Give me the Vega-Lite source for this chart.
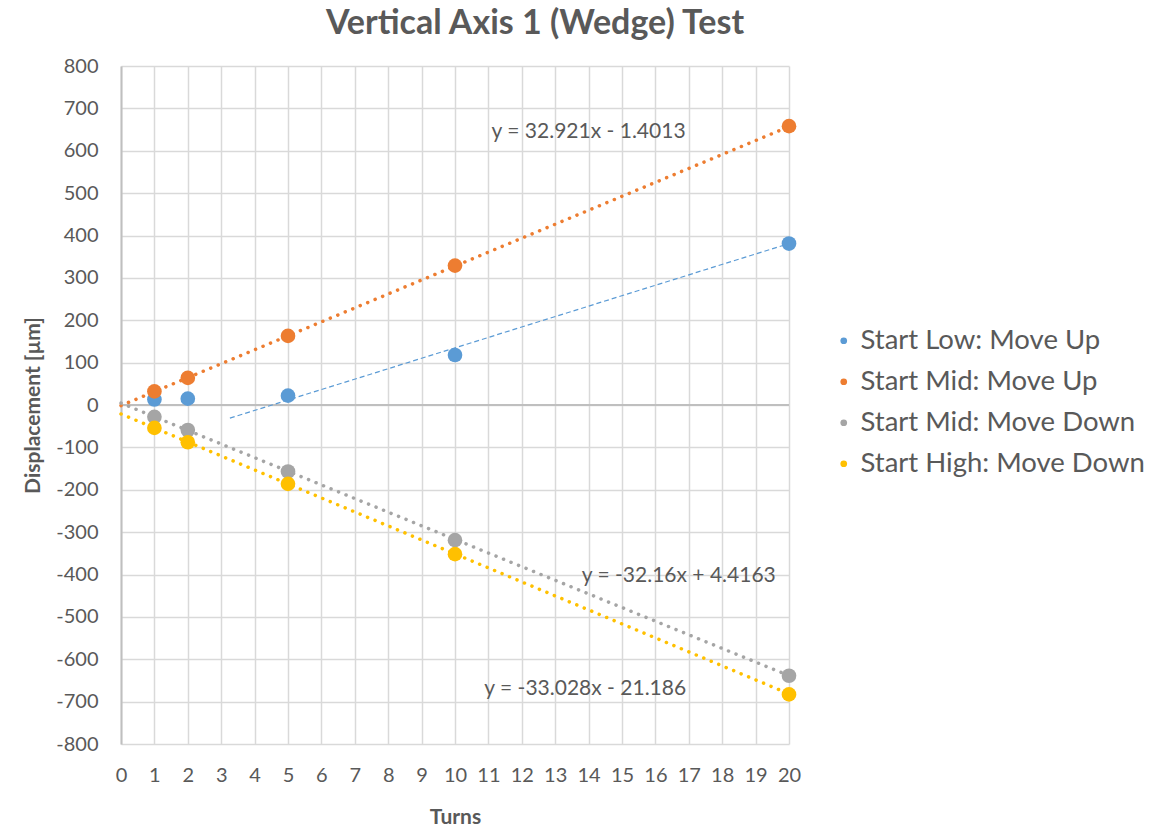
{
  "$schema": "https://vega.github.io/schema/vega-lite/v6.json",
  "autosize": {"type": "none"},
  "padding": {"left": 121, "top": 66, "right": 384, "bottom": 82},
  "width": 668,
  "height": 678,
  "background": "white",
  "title": {
    "text": "Vertical Axis 1 (Wedge) Test",
    "font": "Lato",
    "fontSize": 34,
    "fontWeight": "bold",
    "color": "#595959",
    "anchor": "middle",
    "frame": "group",
    "dx": 80,
    "offset": 15
  },
  "datasets": {
    "points": [
      {"Turns": 1, "Displacement": 13, "Series": "Start Low: Move Up"},
      {"Turns": 2, "Displacement": 15, "Series": "Start Low: Move Up"},
      {"Turns": 5, "Displacement": 22, "Series": "Start Low: Move Up"},
      {"Turns": 10, "Displacement": 118, "Series": "Start Low: Move Up"},
      {"Turns": 20, "Displacement": 381, "Series": "Start Low: Move Up"},
      {"Turns": 1, "Displacement": 32, "Series": "Start Mid: Move Up"},
      {"Turns": 2, "Displacement": 64, "Series": "Start Mid: Move Up"},
      {"Turns": 5, "Displacement": 163, "Series": "Start Mid: Move Up"},
      {"Turns": 10, "Displacement": 329, "Series": "Start Mid: Move Up"},
      {"Turns": 20, "Displacement": 658, "Series": "Start Mid: Move Up"},
      {"Turns": 1, "Displacement": -28, "Series": "Start Mid: Move Down"},
      {"Turns": 2, "Displacement": -59, "Series": "Start Mid: Move Down"},
      {"Turns": 5, "Displacement": -157, "Series": "Start Mid: Move Down"},
      {"Turns": 10, "Displacement": -319, "Series": "Start Mid: Move Down"},
      {"Turns": 20, "Displacement": -639, "Series": "Start Mid: Move Down"},
      {"Turns": 1, "Displacement": -54, "Series": "Start High: Move Down"},
      {"Turns": 2, "Displacement": -88, "Series": "Start High: Move Down"},
      {"Turns": 5, "Displacement": -186, "Series": "Start High: Move Down"},
      {"Turns": 10, "Displacement": -352, "Series": "Start High: Move Down"},
      {"Turns": 20, "Displacement": -683, "Series": "Start High: Move Down"}
    ],
    "trend": [
      {"Turns": 3.26, "Displacement": -31, "Series": "Start Low: Move Up", "Style": "dash"},
      {"Turns": 20, "Displacement": 381, "Series": "Start Low: Move Up", "Style": "dash"},
      {"Turns": 0, "Displacement": -1.4, "Series": "Start Mid: Move Up", "Style": "dot"},
      {"Turns": 20, "Displacement": 657, "Series": "Start Mid: Move Up", "Style": "dot"},
      {"Turns": 0, "Displacement": 4.4, "Series": "Start Mid: Move Down", "Style": "dot"},
      {"Turns": 20, "Displacement": -638.8, "Series": "Start Mid: Move Down", "Style": "dot"},
      {"Turns": 0, "Displacement": -21.2, "Series": "Start High: Move Down", "Style": "dot"},
      {"Turns": 20, "Displacement": -681.7, "Series": "Start High: Move Down", "Style": "dot"}
    ],
    "labels": [
      {"Turns": 14.0, "Displacement": 644, "Label": "y = 32.921x - 1.4013"},
      {"Turns": 16.7, "Displacement": -403, "Label": "y = -32.16x + 4.4163"},
      {"Turns": 13.9, "Displacement": -670, "Label": "y = -33.028x - 21.186"}
    ]
  },
  "config": {
    "view": {"stroke": null},
    "font": "Lato",
    "axis": {
      "gridColor": "#d9d9d9",
      "gridWidth": 1.5,
      "labelColor": "#595959",
      "titleColor": "#595959",
      "labelFont": "Lato",
      "titleFont": "Lato",
      "ticks": false,
      "labelOverlap": false,
      "labelFlush": false
    }
  },
  "encoding": {
    "x": {
      "field": "Turns",
      "type": "quantitative",
      "title": "Turns",
      "scale": {"domain": [0, 20], "nice": false},
      "axis": {
        "values": [0,1,2,3,4,5,6,7,8,9,10,11,12,13,14,15,16,17,18,19,20],
        "domain": false,
        "grid": true,
        "labelOverlap": false,
        "labelFlush": false,
        "labelFontSize": 20,
        "labelPadding": 21,
        "titleFontSize": 21,
        "titleFontWeight": "bold",
        "titlePadding": 21
      }
    },
    "y": {
      "field": "Displacement",
      "type": "quantitative",
      "title": "Displacement [µm]",
      "scale": {"domain": [-800, 800], "nice": false},
      "axis": {
        "values": [-800,-700,-600,-500,-400,-300,-200,-100,0,100,200,300,400,500,600,700,800],
        "labelExpr": "replace(datum.label, '\u2212', '-')",
        "domain": true,
        "grid": true,
        "labelOverlap": false,
        "labelFlush": false,
        "domainColor": "#bfbfbf",
        "domainWidth": 2,
        "labelFontSize": 20,
        "labelPadding": 23,
        "titleFontSize": 21,
        "titleFontWeight": "bold",
        "titlePadding": 12
      }
    }
  },
  "layer": [
    {
      "data": {"name": "labels"},
      "mark": {"type": "rule", "color": "#bfbfbf", "strokeWidth": 2},
      "encoding": {
        "y": {
          "datum": 0,
          "type": "quantitative",
          "title": "Displacement [µm]",
          "scale": {"domain": [-800, 800], "nice": false},
          "axis": {
            "values": [-800,-700,-600,-500,-400,-300,-200,-100,0,100,200,300,400,500,600,700,800],
            "labelExpr": "replace(datum.label, '\u2212', '-')",
            "domain": true,
            "grid": true,
            "labelOverlap": false,
            "labelFlush": false,
            "domainColor": "#bfbfbf",
            "domainWidth": 2,
            "labelFontSize": 20,
            "labelPadding": 23,
            "titleFontSize": 21,
            "titleFontWeight": "bold",
            "titlePadding": 12
          }
        },
        "x": null
      }
    },
    {
      "data": {"name": "trend"},
      "transform": [{"filter": "datum.Style === 'dot'"}],
      "mark": {"type": "line", "strokeDash": [0.1, 8], "strokeCap": "round", "strokeWidth": 3.5},
      "encoding": {
        "color": {"field": "Series", "type": "nominal"},
        "detail": {"field": "Series"}
      }
    },
    {
      "data": {"name": "trend"},
      "transform": [{"filter": "datum.Style === 'dash'"}],
      "mark": {"type": "line", "strokeDash": [5, 3], "strokeWidth": 1.2},
      "encoding": {
        "color": {"field": "Series", "type": "nominal"},
        "detail": {"field": "Series"}
      }
    },
    {
      "data": {"name": "points"},
      "mark": {"type": "circle", "size": 215, "opacity": 1},
      "encoding": {
        "color": {
          "field": "Series",
          "type": "nominal",
          "scale": {
            "domain": ["Start Low: Move Up", "Start Mid: Move Up", "Start Mid: Move Down", "Start High: Move Down"],
            "range": ["#5B9BD5", "#ED7D31", "#A5A5A5", "#FFC000"]
          },
          "legend": {
            "title": null,
            "orient": "none",
            "legendX": 709,
            "legendY": 261,
            "symbolType": "circle",
            "symbolSize": 45,
            "symbolStrokeWidth": 0,
            "labelFontSize": 27.5,
            "labelLimit": 0,
            "labelColor": "#595959",
            "labelFont": "Lato",
            "rowPadding": 12,
            "labelOffset": 3
          }
        }
      }
    },
    {
      "data": {"name": "labels"},
      "mark": {"type": "text", "fontSize": 21, "color": "#595959", "font": "Lato"},
      "encoding": {
        "text": {"field": "Label"}
      }
    }
  ]
}
